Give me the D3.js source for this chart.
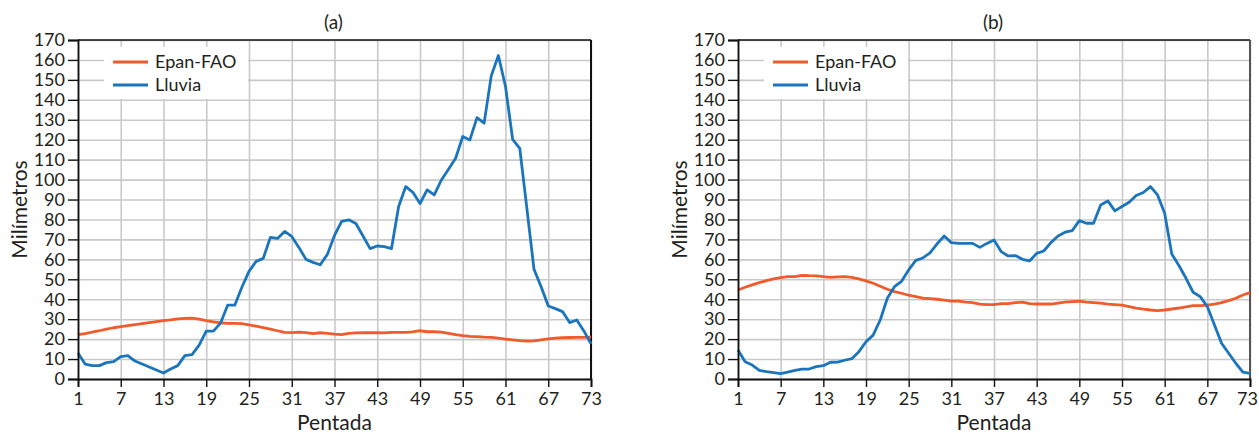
<!DOCTYPE html>
<html>
<head>
<meta charset="utf-8">
<script src="https://cdn.jsdelivr.net/npm/d3@7"></script>
<style>
  html, body { margin: 0; padding: 0; background: #fff; }
  svg { display: block; font-family: Lato, "Open Sans", sans-serif; }
</style>
</head>
<body>
<svg id="chart" width="1259" height="433"></svg>
<script>
// ---- data ----
const pentadas = d3.range(1, 74);
const xTicks = [1, 7, 13, 19, 25, 31, 37, 43, 49, 55, 61, 67, 73];
const yTicks = d3.range(0, 171, 10);
const seriesNames = ["Epan-FAO", "Lluvia"];
const panelTitles = ["(a)", "(b)"];

const epanA = [22.2,22.8,23.5,24.2,25,25.7,26.3,26.8,27.3,27.8,
  28.3,28.8,29.3,29.7,30.2,30.4,30.5,30,29.3,28.7,
  28.2,27.9,27.9,27.8,27.2,26.5,25.8,25,24.2,23.4,
  23.3,23.5,23.3,22.8,23.2,22.9,22.5,22.3,22.9,23.1,
  23.2,23.2,23.2,23.1,23.4,23.4,23.4,23.6,24.2,23.7,
  23.7,23.5,22.9,22.2,21.7,21.4,21.2,21.0,20.9,20.5,
  20.0,19.6,19.2,19.0,19.1,19.6,20.1,20.5,20.7,20.8,
  20.9,20.9,21.0];
const lluviaA = [13,7.5,6.7,6.7,8.2,8.7,11.2,11.7,9,7.5,
  6,4.5,3,5,6.7,11.7,12.2,17,24,24,
  28,37,37,46,54,59,60.5,71,70.5,74,
  71.5,66,60,58.5,57.3,62.5,72,79,79.8,78,
  71.7,65.4,66.7,66.4,65.4,86.5,96.5,93.6,88,94.8,
  92.3,99.8,105.2,110.7,121.6,119.9,131.1,128.3,152,162.2,
  146.7,120.2,115.7,85.6,55,46.3,36.6,35.3,33.8,28.3,
  29.6,24.1,17.6];
const epanB = [44.6,46,47.2,48.3,49.3,50.2,50.8,51.3,51.3,52,
  51.8,51.7,51.3,51,51.2,51.3,51,50.2,49.2,48,
  46.5,45,43.8,43,42,41.3,40.5,40.3,40,39.6,
  39.1,39.1,38.6,38.3,37.6,37.3,37.3,37.8,37.8,38.3,
  38.5,37.8,37.6,37.6,37.6,38.1,38.6,38.8,39,38.5,
  38.3,38,37.6,37.3,37,36.3,35.6,35,34.6,34.3,
  34.6,35.1,35.6,36.2,36.8,36.8,37,37.6,38.3,39.3,
  40.5,42.1,43.3];
const lluviaB = [14.5,8.7,7,4.3,3.7,3.2,2.7,3.5,4.3,5,
  5,6.2,6.7,8.4,8.5,9.4,10.2,13.7,18.7,22,
  29.6,40.5,46.3,49,54.7,59.5,60.7,63.2,67.8,71.7,
  68.4,68,68,68,66,68,69.7,63.9,61.7,61.9,
  60,59.2,63,64.2,68.4,71.7,73.6,74.4,79.4,78.1,
  78.1,87.3,89.3,84.3,86.5,88.6,92,93.5,96.5,92.3,
  83.1,62.7,56.9,50.5,43.5,41.3,36.3,27.1,17.9,12.9,
  7.9,3.5,2.8];

// ---- layout / style ----
const colors = ["#F15A2B", "#1B75BC"];
const textColor = "#231F20";
const panels = [
  { left: 78, right: 591, rightBorder: "#111", epan: epanA, lluvia: lluviaA },
  { left: 738, right: 1250, rightBorder: "#555", epan: epanB, lluvia: lluviaB }
];
const plotTop = 40, plotBottom = 379;

const svg = d3.select("#chart");
svg.append("rect").attr("width", 1259).attr("height", 433).attr("fill", "#fff");

panels.forEach((p, i) => {
  const x = d3.scaleLinear().domain([1, 73]).range([p.left, p.right]);
  const y = d3.scaleLinear().domain([0, 170]).range([plotBottom, plotTop]);
  const g = svg.append("g");

  // grid
  g.append("g")
    .attr("transform", `translate(0,${plotBottom})`)
    .call(d3.axisBottom(x).tickValues(xTicks).tickSize(-(plotBottom - plotTop)).tickFormat(""))
    .call(s => s.select(".domain").remove())
    .call(s => s.selectAll("line").attr("stroke", "#C9C9C9").attr("stroke-width", 1.6));
  g.append("g")
    .attr("transform", `translate(${p.left},0)`)
    .call(d3.axisLeft(y).tickValues(yTicks).tickSize(-(p.right - p.left)).tickFormat(""))
    .call(s => s.select(".domain").remove())
    .call(s => s.selectAll("line").attr("stroke", "#C9C9C9").attr("stroke-width", 1.6));

  // legend box (white, hides grid)
  const lx = p.left + 26;
  g.append("rect").attr("x", lx).attr("y", 47).attr("width", 144).attr("height", 52).attr("fill", "#fff");

  // border top/right
  g.append("line").attr("x1", p.left).attr("x2", p.right).attr("y1", plotTop).attr("y2", plotTop)
    .attr("stroke", "#111").attr("stroke-width", 1.6);
  g.append("line").attr("x1", p.right).attr("x2", p.right).attr("y1", plotTop).attr("y2", plotBottom)
    .attr("stroke", p.rightBorder).attr("stroke-width", 2);

  // lines
  const line = d3.line().x((d, k) => x(pentadas[k])).y(d => y(d));
  [p.epan, p.lluvia].forEach((vals, k) => {
    g.append("path").datum(vals).attr("d", line)
      .attr("fill", "none").attr("stroke", colors[k]).attr("stroke-width", 2.8)
      .attr("stroke-linejoin", "round");
  });

  // axes
  const ya = g.append("g").attr("transform", `translate(${p.left},0)`)
    .call(d3.axisLeft(y).tickValues(yTicks).tickSize(10).tickPadding(3));
  const xa = g.append("g").attr("transform", `translate(0,${plotBottom})`)
    .call(d3.axisBottom(x).tickValues(xTicks).tickSize(8).tickPadding(5));
  [ya, xa].forEach(a => {
    a.select(".domain").attr("stroke", "#111").attr("stroke-width", 1.8);
    a.selectAll(".tick line").attr("stroke", "#111").attr("stroke-width", 1.4);
    a.selectAll("text").attr("fill", textColor).style("font-size", "18px")
      .style("font-family", "Lato, 'Open Sans', sans-serif");
  });
  // keep the last x label inside the page
  if (p.right > 1240) {
    xa.selectAll(".tick text").filter(d => d === 73).attr("dx", -3);
  }

  // titles
  g.append("text").attr("x", (p.left + p.right) / 2 - 1).attr("y", 29)
    .attr("text-anchor", "middle").attr("fill", textColor).style("font-size", "19px")
    .text(panelTitles[i]);
  g.append("text").attr("x", (p.left + p.right) / 2).attr("y", 430)
    .attr("text-anchor", "middle").attr("fill", textColor).style("font-size", "21px")
    .text("Pentada");
  g.append("text").attr("transform", `translate(${p.left - 58},${(plotTop + plotBottom) / 2}) rotate(-90)`)
    .attr("text-anchor", "middle").attr("dy", "0.35em").attr("fill", textColor).style("font-size", "21px")
    .text("Milímetros");

  // legend
  seriesNames.forEach((name, k) => {
    const ly = 62 + k * 23;
    g.append("line").attr("x1", lx + 9).attr("x2", lx + 44).attr("y1", ly).attr("y2", ly)
      .attr("stroke", colors[k]).attr("stroke-width", 3);
    g.append("text").attr("x", lx + 51).attr("y", ly).attr("dy", "0.35em")
      .attr("fill", textColor).style("font-size", "18px").text(name);
  });
});
</script>
</body>
</html>
